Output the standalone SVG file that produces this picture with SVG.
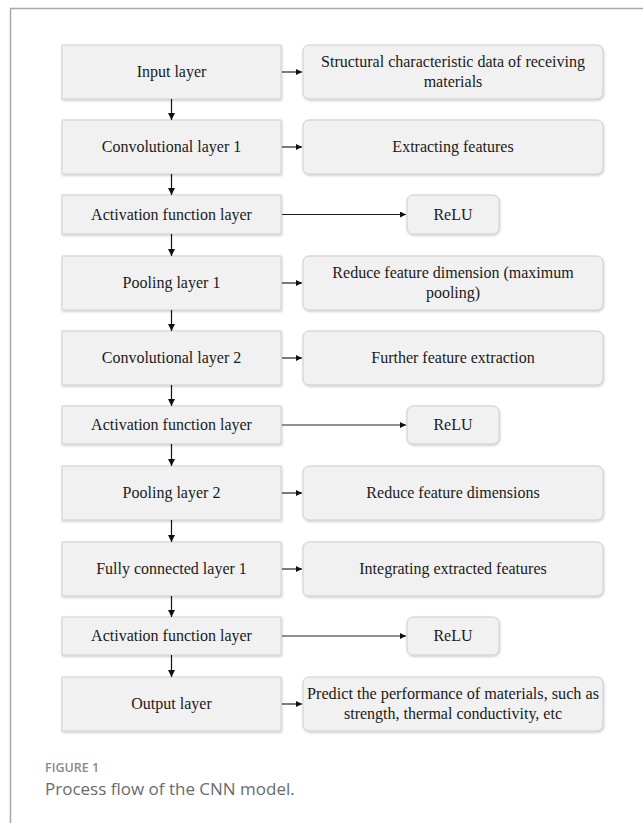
<svg xmlns="http://www.w3.org/2000/svg" width="643" height="823" viewBox="0 0 643 823">
<defs>
  <filter id="sh" x="-5%" y="-5%" width="110%" height="120%">
    <feDropShadow dx="0.6" dy="1.2" stdDeviation="0.8" flood-color="#000" flood-opacity="0.22"/>
  </filter>
  <marker id="ah" viewBox="0 0 10 10" refX="10" refY="5" markerWidth="6" markerHeight="6" markerUnits="userSpaceOnUse" orient="auto">
    <path d="M0,0 L10,5 L0,10 Z" fill="#111"/>
  </marker>
  <marker id="av" viewBox="0 0 10 10" refX="10" refY="5" markerWidth="9" markerHeight="7" markerUnits="userSpaceOnUse" orient="auto">
    <path d="M0,0 L10,5 L0,10 Z" fill="#111"/>
  </marker>
</defs>
<style>
  .lb { fill: #f1f1f1; stroke: #cfcfcf; stroke-width: 1; filter: url(#sh); }
  .rb { fill: #f1f1f1; stroke: #cdcdcd; stroke-width: 1; filter: url(#sh); }
  .t { font-family: "Liberation Serif", "Times New Roman", serif; font-size: 16px; fill: #1a1a1a; text-anchor: middle; }
  .v { stroke: #111; stroke-width: 1.2; fill: none; marker-end: url(#av); }
  .h { stroke: #222; stroke-width: 1.2; fill: none; marker-end: url(#ah); }
  .frame { stroke: #a8a8a8; stroke-width: 1.5; fill: none; }
  .fig { font-family: "Open Sans", "Liberation Sans", sans-serif; font-size: 12.5px; font-weight: 600; fill: #8a8a8a; }
  .cap { font-family: "Open Sans", "Liberation Sans", sans-serif; font-size: 17px; fill: #6a6a6a; }
</style>
<rect width="643" height="823" fill="#ffffff"/>
<path class="frame" d="M10.5,823 V8.5 H643"/>

<g id="input">
  <rect class="lb" x="62" y="45" width="219" height="54"/>
  <text class="t" x="171.5" y="77">Input layer</text>
</g>
<g id="input-desc">
  <rect class="rb" x="303" y="45" width="300" height="54" rx="6"/>
  <text class="t" x="453" y="67">Structural characteristic data of receiving</text>
  <text class="t" x="453" y="87">materials</text>
</g>

<g id="conv1">
  <rect class="lb" x="62" y="120" width="219" height="54"/>
  <text class="t" x="171.5" y="152">Convolutional layer 1</text>
</g>
<g id="conv1-desc">
  <rect class="rb" x="303" y="120" width="300" height="54" rx="6"/>
  <text class="t" x="453" y="152">Extracting features</text>
</g>

<g id="act1">
  <rect class="lb" x="62" y="195" width="219" height="39"/>
  <text class="t" x="171.5" y="219.5">Activation function layer</text>
</g>
<g id="relu1">
  <rect class="rb" x="407" y="195" width="92" height="39" rx="6"/>
  <text class="t" x="453" y="219.5">ReLU</text>
</g>

<g id="pool1">
  <rect class="lb" x="62" y="256" width="219" height="54"/>
  <text class="t" x="171.5" y="288">Pooling layer 1</text>
</g>
<g id="pool1-desc">
  <rect class="rb" x="303" y="256" width="300" height="54" rx="6"/>
  <text class="t" x="453" y="278">Reduce feature dimension (maximum</text>
  <text class="t" x="453" y="298">pooling)</text>
</g>

<g id="conv2">
  <rect class="lb" x="62" y="331" width="219" height="54"/>
  <text class="t" x="171.5" y="363">Convolutional layer 2</text>
</g>
<g id="conv2-desc">
  <rect class="rb" x="303" y="331" width="300" height="54" rx="6"/>
  <text class="t" x="453" y="363">Further feature extraction</text>
</g>

<g id="act2">
  <rect class="lb" x="62" y="406" width="219" height="38"/>
  <text class="t" x="171.5" y="430">Activation function layer</text>
</g>
<g id="relu2">
  <rect class="rb" x="407" y="406" width="92" height="38" rx="6"/>
  <text class="t" x="453" y="430">ReLU</text>
</g>

<g id="pool2">
  <rect class="lb" x="62" y="466" width="219" height="54"/>
  <text class="t" x="171.5" y="498">Pooling layer 2</text>
</g>
<g id="pool2-desc">
  <rect class="rb" x="303" y="466" width="300" height="54" rx="6"/>
  <text class="t" x="453" y="498">Reduce feature dimensions</text>
</g>

<g id="fc1">
  <rect class="lb" x="62" y="542" width="219" height="54"/>
  <text class="t" x="171.5" y="574">Fully connected layer 1</text>
</g>
<g id="fc1-desc">
  <rect class="rb" x="303" y="542" width="300" height="54" rx="6"/>
  <text class="t" x="453" y="574">Integrating extracted features</text>
</g>

<g id="act3">
  <rect class="lb" x="62" y="617" width="219" height="38"/>
  <text class="t" x="171.5" y="641">Activation function layer</text>
</g>
<g id="relu3">
  <rect class="rb" x="407" y="617" width="92" height="38" rx="6"/>
  <text class="t" x="453" y="641">ReLU</text>
</g>

<g id="output">
  <rect class="lb" x="62" y="677" width="219" height="54"/>
  <text class="t" x="171.5" y="709">Output layer</text>
</g>
<g id="output-desc">
  <rect class="rb" x="303" y="677" width="300" height="54" rx="6"/>
  <text class="t" x="453" y="699" textLength="292" lengthAdjust="spacingAndGlyphs">Predict the performance of materials, such as</text>
  <text class="t" x="453" y="719">strength, thermal conductivity, etc</text>
</g>

<g id="connectors">
  <line class="v" x1="171.5" y1="99" x2="171.5" y2="120"/>
  <line class="v" x1="171.5" y1="174" x2="171.5" y2="195"/>
  <line class="v" x1="171.5" y1="234" x2="171.5" y2="256"/>
  <line class="v" x1="171.5" y1="310" x2="171.5" y2="331"/>
  <line class="v" x1="171.5" y1="385" x2="171.5" y2="406"/>
  <line class="v" x1="171.5" y1="444" x2="171.5" y2="466"/>
  <line class="v" x1="171.5" y1="520" x2="171.5" y2="542"/>
  <line class="v" x1="171.5" y1="596" x2="171.5" y2="617"/>
  <line class="v" x1="171.5" y1="655" x2="171.5" y2="677"/>

  <line class="h" x1="282" y1="72" x2="302" y2="72"/>
  <line class="h" x1="282" y1="147" x2="302" y2="147"/>
  <line class="h" x1="282" y1="214.5" x2="406" y2="214.5"/>
  <line class="h" x1="282" y1="283" x2="302" y2="283"/>
  <line class="h" x1="282" y1="358" x2="302" y2="358"/>
  <line class="h" x1="282" y1="425" x2="406" y2="425"/>
  <line class="h" x1="282" y1="493" x2="302" y2="493"/>
  <line class="h" x1="282" y1="569" x2="302" y2="569"/>
  <line class="h" x1="282" y1="636" x2="406" y2="636"/>
  <line class="h" x1="282" y1="704" x2="302" y2="704"/>
</g>

<text class="fig" x="45" y="772">FIGURE 1</text>
<text class="cap" x="45" y="795">Process flow of the CNN model.</text>
</svg>
